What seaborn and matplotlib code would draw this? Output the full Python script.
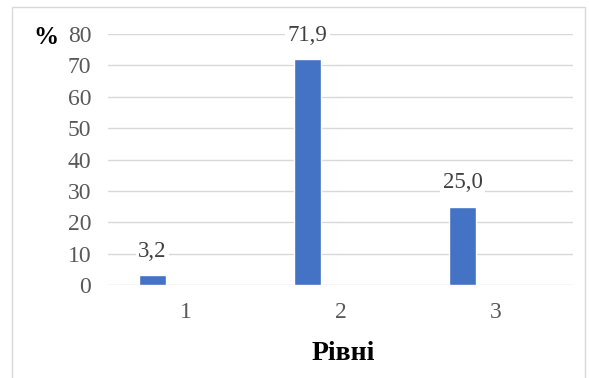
import matplotlib
matplotlib.use("Agg")
import matplotlib.pyplot as plt
import seaborn as sns
import pandas as pd
from matplotlib.patches import Rectangle

# Data
levels = ["1", "2", "3"]
shares = [3.2, 71.9, 25.0]
share_labels = ["3,2", "71,9", "25,0"]
y_ticks = [0, 10, 20, 30, 40, 50, 60, 70, 80]

df = pd.DataFrame({"level": levels, "share": shares})

sns.set_theme(style="white")
plt.rcParams["font.family"] = ["Liberation Serif", "DejaVu Serif"]

fig = plt.figure(figsize=(5.89, 3.78), dpi=100)
ax = fig.add_axes([108 / 589, 1 - 285 / 378, (573 - 108) / 589, (285 - 34) / 378])

sns.barplot(data=df, x="level", y="share", color="#4472C4", width=0.174,
            saturation=1, ax=ax, zorder=3)

# category slots are offset so the bar sits left of the tick
shift = 0.213
ax.set_xlim(-0.5 + shift, 2.5 + shift)
ax.set_xticks([i + shift for i in range(len(levels))], levels)
ax.set_ylim(0, 80)
ax.set_yticks(y_ticks, [str(t) for t in y_ticks])

ax.grid(axis="y", color="#d9d9d9", linewidth=1.0, zorder=0)
ax.grid(axis="x", visible=False)
for s in ax.spines.values():
    s.set_visible(False)
ax.tick_params(axis="both", length=0, labelsize=17, labelcolor="#595959")
ax.tick_params(axis="y", pad=12)
ax.tick_params(axis="x", pad=12)
ax.set_xlabel("")
ax.set_ylabel("")

for i, (v, lab) in enumerate(zip(shares, share_labels)):
    ax.annotate(lab, xy=(i, v), xytext=(0, 17), textcoords="offset points",
                ha="center", va="center", fontsize=16.5, color="#404040",
                bbox=dict(boxstyle="square,pad=0.1", fc="white", ec="none"),
                zorder=5)

fig.text(343 / 589, 1 - 353 / 378, "Рівні", ha="center", va="center",
         fontsize=20, fontweight="bold", color="black",
         family=["Liberation Serif", "DejaVu Serif"])
fig.text(46 / 589, 1 - 38 / 378, "%", ha="center", va="center",
         fontsize=18, fontweight="bold", color="black")

# chart frame
fig.patches.append(Rectangle((12 / 589, -0.05), (585 - 12) / 589, 1.05 - 7 / 378,
                             transform=fig.transFigure, fill=False,
                             edgecolor="#d9d9d9", linewidth=1.0))

fig.savefig("out.png", dpi=100)
